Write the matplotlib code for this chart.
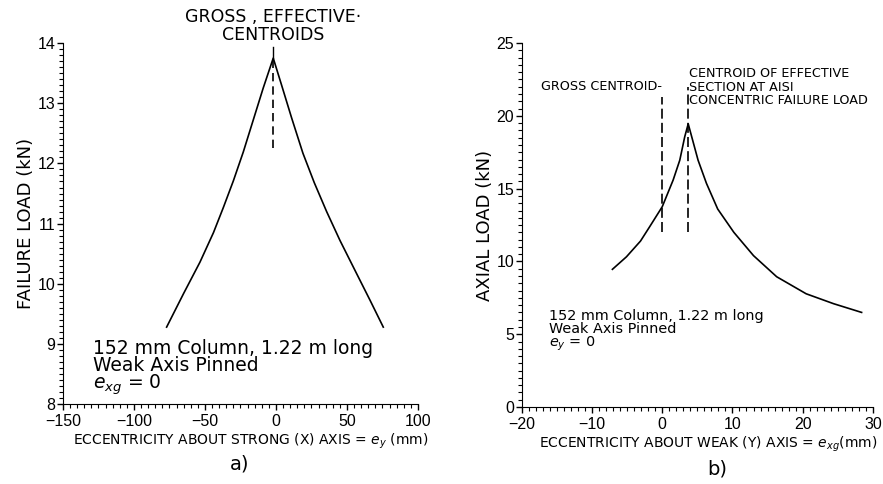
import numpy as np
import matplotlib.pyplot as plt
from matplotlib.ticker import MultipleLocator

# panel a) failure load vs strong-axis eccentricity
ecc_strong = [-77.0, -65.0, -53.5, -44.0, -37.0, -30.0, -23.0, -16.0, -9.0, -1.9,
              4.0, 11.0, 19.0, 27.0, 35.7, 45.1, 56.8, 66.2, 75.6]
load_strong = [9.28, 9.84, 10.36, 10.85, 11.27, 11.71, 12.19, 12.72, 13.25, 13.75,
               13.30, 12.76, 12.17, 11.68, 11.20, 10.72, 10.17, 9.73, 9.28]
centroid_a = -1.9

# panel b) axial load vs weak-axis eccentricity
ecc_weak = [-7.1, -5.1, -3.1, -1.8, 0.0, 1.55, 2.5, 3.2, 3.7,
            4.2, 5.1, 6.3, 7.9, 10.2, 13.0, 16.3, 20.5, 24.4, 28.4]
load_weak = [9.46, 10.32, 11.4, 12.38, 13.76, 15.59, 16.96, 18.56, 19.45,
             18.56, 16.96, 15.36, 13.6, 12.0, 10.4, 8.95, 7.78, 7.1, 6.5]
gross_centroid = 0.0
eff_centroid = 3.7

narrow = ['DejaVu Sans']
plt.rcParams['mathtext.fontset'] = 'dejavusans'

fig = plt.figure(figsize=(8.83, 4.84), dpi=100)
ax1 = fig.add_axes([0.0713, 0.165, 0.402, 0.746])
ax2 = fig.add_axes([0.591, 0.159, 0.3975, 0.752])

for ax in (ax1, ax2):
    ax.spines['top'].set_visible(False)
    ax.spines['right'].set_visible(False)
    ax.tick_params(which='major', direction='out', length=4.5, width=1, labelsize=11.5, pad=1)
    ax.tick_params(which='minor', direction='out', length=3, width=0.8)
    ax.tick_params(axis='x', which='major', length=4, pad=3)

# ---- a)
ax1.plot(ecc_strong, load_strong, color='black', lw=1.2)
ax1.plot([centroid_a, centroid_a], [13.75, 13.94], color='black', lw=1)
ax1.plot([centroid_a, centroid_a], [12.25, 13.72], color='black', lw=1.2, ls=(0, (5, 3)))
ax1.set_xlim(-150, 100)
ax1.set_ylim(8, 14)
ax1.xaxis.set_major_locator(MultipleLocator(50))
ax1.xaxis.set_minor_locator(MultipleLocator(5))
ax1.yaxis.set_major_locator(MultipleLocator(1))
ax1.yaxis.set_minor_locator(MultipleLocator(0.1))
for lab in ax1.get_xticklabels() + ax1.get_yticklabels():
    lab.set_family('Liberation Sans')
ax1.set_ylabel('FAILURE LOAD (kN)', family=narrow, fontsize=13, labelpad=2)
ax1.set_xlabel(r'ECCENTRICITY ABOUT STRONG (X) AXIS = $e_y$ (mm)', family=narrow,
               fontsize=10, labelpad=1)
ax1.xaxis.set_label_coords(0.53, -0.076)
ax1.text(-1.9, 14.43, 'GROSS , EFFECTIVE\u00b7', ha='center', va='center',
         family=narrow, fontsize=12.5, clip_on=False)
ax1.text(-1.9, 14.13, 'CENTROIDS', ha='center', va='center',
         family=narrow, fontsize=12.5, clip_on=False)
ax1.text(-129, 9.09, '152 mm Column, 1.22 m long\nWeak Axis Pinned\n$e_{xg}$ = 0',
         ha='left', va='top', fontsize=13.5, linespacing=0.88)
ax1.text(0.499, -0.167, 'a)', transform=ax1.transAxes, ha='center', va='center', fontsize=14)

# ---- b)
ax2.plot(ecc_weak, load_weak, color='black', lw=1.2)
ax2.plot([gross_centroid, gross_centroid], [12.0, 21.3], color='black', lw=1.2, ls=(0, (6, 2.5)))
ax2.plot([eff_centroid, eff_centroid], [12.0, 22.0], color='black', lw=1.2, ls=(0, (6, 2.5)))
ax2.set_xlim(-20, 30)
ax2.set_ylim(0, 25)
ax2.xaxis.set_major_locator(MultipleLocator(10))
ax2.xaxis.set_minor_locator(MultipleLocator(1))
ax2.yaxis.set_major_locator(MultipleLocator(5))
ax2.yaxis.set_minor_locator(MultipleLocator(0.5))
for lab in ax2.get_xticklabels() + ax2.get_yticklabels():
    lab.set_family('Liberation Sans')
ax2.set_ylabel('AXIAL LOAD (kN)', family=narrow, fontsize=13, labelpad=2)
ax2.set_xlabel(r'ECCENTRICITY ABOUT WEAK (Y) AXIS = $e_{xg}$(mm)', family=narrow,
               fontsize=10, labelpad=1)
ax2.xaxis.set_label_coords(0.531, -0.075)
ax2.text(0.0, 22.05, 'GROSS CENTROID-', ha='right', va='center', family=narrow, fontsize=9.2)
ax2.text(3.8, 21.95, 'CENTROID OF EFFECTIVE\nSECTION AT AISI\nCONCENTRIC FAILURE LOAD',
         ha='left', va='center', family=narrow, fontsize=9.2, linespacing=1.05)
ax2.text(-16.2, 6.75, '152 mm Column, 1.22 m long\nWeak Axis Pinned\n$e_y$ = 0',
         ha='left', va='top', fontsize=10.4, linespacing=0.9)
ax2.text(0.558, -0.17, 'b)', transform=ax2.transAxes, ha='center', va='center', fontsize=14)

fig.savefig('out.png', dpi=100)
